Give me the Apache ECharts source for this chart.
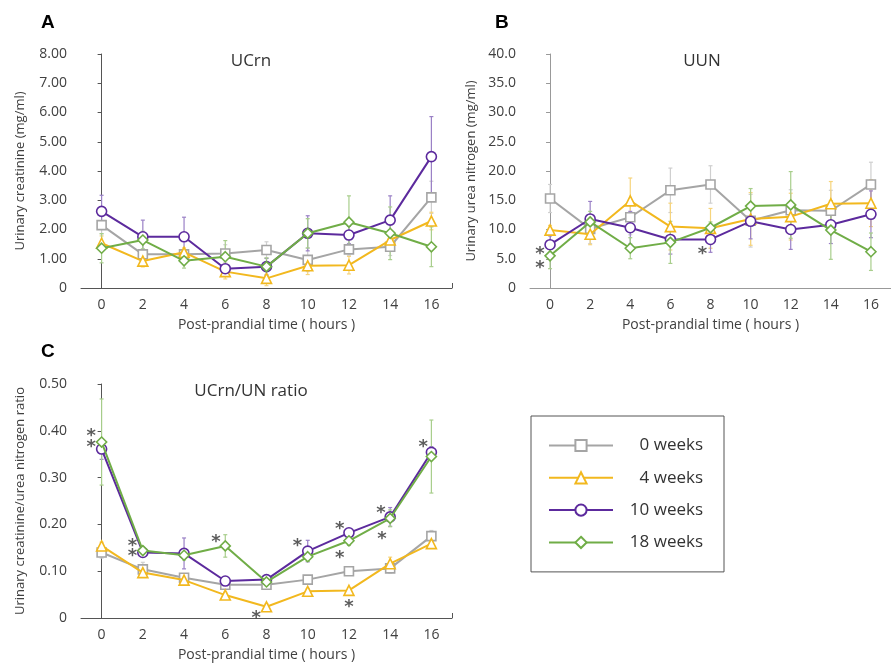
<!DOCTYPE html>
<html lang="en">
<head>
<meta charset="UTF-8">
<title>UCrn / UUN</title>
<script src="https://cdn.jsdelivr.net/npm/echarts@6/dist/echarts.min.js"></script>
<style>
  html, body { margin: 0; padding: 0; background: #fff; }
  #main { width: 891px; height: 664px; }
</style>
</head>
<body>
<div id="main"></div>
<script>
// x = post-prandial time (hours)
const hours = [0, 2, 4, 6, 8, 10, 12, 14, 16];
const groups = ['0 weeks', '4 weeks', '10 weeks', '18 weeks'];

// A: urinary creatinine (mg/ml)
const ucrn0  = [2.15, 1.15, 1.15, 1.18, 1.30, 0.96, 1.32, 1.41, 3.10];
const ucrn4  = [1.53, 0.92, 1.22, 0.56, 0.33, 0.76, 0.78, 1.64, 2.29];
const ucrn10 = [2.62, 1.75, 1.75, 0.66, 0.73, 1.87, 1.81, 2.32, 4.49];
const ucrn18 = [1.36, 1.64, 0.93, 1.07, 0.73, 1.87, 2.25, 1.87, 1.41];
const ucrnErr0  = [0.30, 0.15, 0.15, 0.30, 0.28, 0.40, 0.20, 0.30, 0.55];
const ucrnErr4  = [0.25, 0.20, 0.15, 0.25, 0.25, 0.30, 0.30, 0.30, 0.30];
const ucrnErr10 = [0.55, 0.57, 0.67, 0.10, 0.28, 0.60, 0.30, 0.83, 1.37];
const ucrnErr18 = [0.50, 0.30, 0.25, 0.55, 0.30, 0.50, 0.90, 0.90, 0.68];

// B: urinary urea nitrogen (mg/ml)
const uun0  = [15.3, 10.1, 12.1, 16.7, 17.7, 11.5, 13.3, 13.2, 17.7];
const uun4  = [9.9, 9.2, 14.9, 10.5, 10.2, 11.8, 12.2, 14.4, 14.5];
const uun10 = [7.4, 11.8, 10.3, 8.3, 8.3, 11.4, 10.0, 10.8, 12.6];
const uun18 = [5.5, 11.3, 6.8, 7.8, 10.3, 14.0, 14.2, 9.9, 6.2];
const uunErr0  = [2.4, 2.5, 3.0, 3.8, 3.2, 4.5, 3.5, 3.5, 3.8];
const uunErr4  = [0.8, 1.8, 3.9, 4.0, 3.4, 4.5, 4.0, 3.8, 4.0];
const uunErr10 = [1.5, 3.0, 2.8, 2.5, 2.2, 3.0, 3.4, 3.2, 4.0];
const uunErr18 = [2.2, 1.8, 1.8, 3.6, 1.0, 3.0, 5.7, 5.0, 3.2];
const uunStars = [[-0.5, 6.6], [-0.5, 4.3], [7.6, 6.6]];

// C: creatinine / urea nitrogen ratio
const ratio0  = [0.140, 0.104, 0.086, 0.071, 0.071, 0.082, 0.100, 0.106, 0.175];
const ratio4  = [0.154, 0.097, 0.081, 0.049, 0.024, 0.057, 0.059, 0.116, 0.159];
const ratio10 = [0.361, 0.140, 0.138, 0.079, 0.082, 0.143, 0.182, 0.216, 0.354];
const ratio18 = [0.376, 0.144, 0.134, 0.154, 0.077, 0.131, 0.165, 0.213, 0.345];
const ratioErr0  = [0.012, 0.015, 0.008, 0.006, 0.006, 0.006, 0.008, 0.010, 0.012];
const ratioErr4  = [0.008, 0.008, 0.006, 0.006, 0.006, 0.006, 0.006, 0.014, 0.010];
const ratioErr10 = [0.022, 0.008, 0.033, 0.006, 0.008, 0.023, 0.008, 0.020, 0.012];
const ratioErr18 = [0.092, 0.008, 0.010, 0.024, 0.006, 0.010, 0.010, 0.018, 0.078];
const ratioStars = [[-0.5, 0.399], [-0.5, 0.376], [1.5, 0.163], [1.5, 0.143], [5.55, 0.172],
  [7.5, 0.009], [9.5, 0.163], [11.55, 0.200], [11.55, 0.138], [12, 0.034],
  [13.55, 0.234], [13.6, 0.179], [15.6, 0.375]];

const colors    = ['#A5A5A5', '#F2B81E', '#5C2A9D', '#70AD47'];
const errColors = ['#CFCFCF', '#F6D47C', '#9A80C6', '#A8CE8C'];
const symbols   = ['rect', 'triangle', 'circle', 'diamond'];
const symSizes  = [9, 10, 10, 10];
const FONT = 'Open Sans';

const panels = [
  { means: [ucrn0, ucrn4, ucrn10, ucrn18], errs: [ucrnErr0, ucrnErr4, ucrnErr10, ucrnErr18], stars: [] },
  { means: [uun0, uun4, uun10, uun18], errs: [uunErr0, uunErr4, uunErr10, uunErr18], stars: uunStars },
  { means: [ratio0, ratio4, ratio10, ratio18], errs: [ratioErr0, ratioErr4, ratioErr10, ratioErr18], stars: ratioStars }
];

const chart = echarts.init(document.getElementById('main'));

function yAxis(idx, max, step, digits, name, gap, lineColor) {
  return {
    type: 'value', gridIndex: idx, min: 0, max: max, interval: step,
    name: name, nameLocation: 'middle', nameGap: gap,
    nameTextStyle: { fontFamily: FONT, fontSize: 13, color: '#404040' },
    axisLine: { show: true, lineStyle: { color: lineColor, width: 1 } },
    axisTick: { show: true, length: 4, lineStyle: { color: lineColor } },
    splitLine: { show: false },
    axisLabel: { fontFamily: FONT, fontSize: 14, color: '#404040', margin: 14,
      formatter: v => v === 0 ? '0' : v.toFixed(digits) }
  };
}

function xAxis(idx, lineColor, nameGap) {
  return {
    type: 'value', gridIndex: idx, min: -1, max: 17,
    name: 'Post-prandial time ( hours )', nameLocation: 'middle', nameGap: nameGap,
    nameTextStyle: { fontFamily: FONT, fontSize: 14, color: '#404040' },
    axisLine: { show: true, lineStyle: { color: lineColor, width: 1 } },
    axisTick: { show: true, inside: true, length: 5, customValues: [17], lineStyle: { color: lineColor } },
    splitLine: { show: false },
    axisLabel: { fontFamily: FONT, fontSize: 14, color: '#404040', margin: 10,
      customValues: hours, formatter: v => String(v) }
  };
}

const series = [];
panels.forEach((p, pi) => {
  p.means.forEach((vals, gi) => {
    series.push({
      type: 'custom', name: 'err' + pi + gi, xAxisIndex: pi, yAxisIndex: pi, z: 1, silent: true,
      data: hours.map((h, i) => [h, vals[i], p.errs[gi][i]]),
      renderItem: (params, api) => {
        const x = api.value(0), y = api.value(1), e = api.value(2);
        const top = api.coord([x, y + e]);
        const bot = api.coord([x, y - e]);
        const st = { stroke: errColors[gi], lineWidth: 1.2 };
        return { type: 'group', children: [
          { type: 'line', shape: { x1: top[0], y1: top[1], x2: bot[0], y2: bot[1] }, style: st },
          { type: 'line', shape: { x1: top[0] - 2, y1: top[1], x2: top[0] + 2, y2: top[1] }, style: st },
          { type: 'line', shape: { x1: bot[0] - 2, y1: bot[1], x2: bot[0] + 2, y2: bot[1] }, style: st }
        ] };
      }
    });
  });
  p.means.forEach((vals, gi) => {
    series.push({
      type: 'line', name: groups[gi], xAxisIndex: pi, yAxisIndex: pi, z: 3 + gi,
      data: hours.map((h, i) => [h, vals[i]]),
      symbol: symbols[gi], symbolSize: symSizes[gi], showAllSymbol: true,
      lineStyle: { color: colors[gi], width: 2 },
      itemStyle: { color: '#fff', borderColor: colors[gi], borderWidth: 1.6 },
      emphasis: { disabled: true }
    });
  });
  if (p.stars.length) {
    series.push({
      type: 'scatter', name: 'stars' + pi, xAxisIndex: pi, yAxisIndex: pi, z: 10, silent: true,
      data: p.stars, symbolSize: 0,
      label: { show: true, position: 'inside', formatter: '*', offset: [0, 5],
        fontFamily: 'DejaVu Sans', fontWeight: 'bold', fontSize: 18, color: '#333' }
    });
  }
});

const option = {
  animation: false,
  backgroundColor: '#fff',
  title: [
    { text: 'A', left: 36, top: 8, textStyle: { fontFamily: 'Liberation Sans', fontWeight: 'bold', fontSize: 19, color: '#000' } },
    { text: 'B', left: 490, top: 8, textStyle: { fontFamily: 'Liberation Sans', fontWeight: 'bold', fontSize: 19, color: '#000' } },
    { text: 'C', left: 36, top: 337, textStyle: { fontFamily: 'Liberation Sans', fontWeight: 'bold', fontSize: 19, color: '#000' } },
    { text: 'UCrn', left: 246, top: 48, textAlign: 'center', textStyle: { fontFamily: FONT, fontWeight: 'normal', fontSize: 17, color: '#333' } },
    { text: 'UUN', left: 697, top: 48, textAlign: 'center', textStyle: { fontFamily: FONT, fontWeight: 'normal', fontSize: 17, color: '#333' } },
    { text: 'UCrn/UN ratio', left: 246, top: 378, textAlign: 'center', textStyle: { fontFamily: FONT, fontWeight: 'normal', fontSize: 17, color: '#333' } }
  ],
  legend: {
    data: groups, orient: 'vertical', left: 531, top: 416,
    borderColor: '#555', borderWidth: 1, borderRadius: 0,
    padding: [21, 21, 21, 17], itemGap: 15.3, itemWidth: 64, itemHeight: 14,
    selectedMode: false,
    formatter: '{a|{name}}',
    textStyle: { rich: { a: { width: 85, align: 'right', fontFamily: FONT, fontSize: 17, color: '#333' } } }
  },
  grid: [
    { left: 81, top: 54, width: 371, height: 234 },
    { left: 530, top: 54, width: 375, height: 234 },
    { left: 81, top: 384, width: 371, height: 234 }
  ],
  xAxis: [xAxis(0, '#555', 30), xAxis(1, '#999', 30), xAxis(2, '#555', 30)],
  yAxis: [
    yAxis(0, 8, 1, 2, 'Urinary creatinine (mg/ml)', 54, '#555'),
    yAxis(1, 40, 5, 1, 'Urinary urea nitrogen (mg/ml)', 52, '#999'),
    yAxis(2, 0.5, 0.1, 2, 'Urinary creatinine/urea nitrogen ratio', 54, '#555')
  ],
  series: series
};

chart.setOption(option);
</script>
</body>
</html>
